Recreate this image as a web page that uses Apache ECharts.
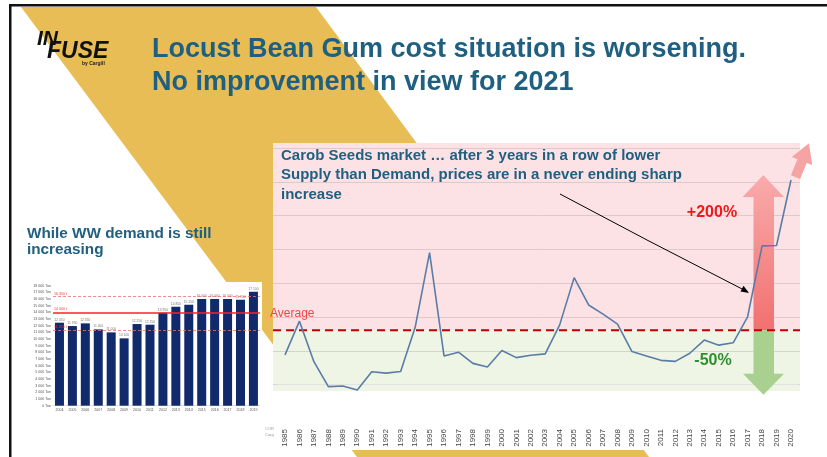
<!DOCTYPE html>
<html><head><meta charset="utf-8">
<script src="https://cdn.jsdelivr.net/npm/echarts/dist/echarts.min.js"></script>
<style>html,body{margin:0;padding:0;background:#fff;overflow:hidden}#c{width:827px;height:457px}</style>
</head><body><div id="c"></div>
<script>
// ---- Data: carob seed price index (line chart) ----
const years = ['1985','1986','1987','1988','1989','1990','1991','1992','1993','1994','1995','1996','1997','1998','1999','2000','2001','2002','2003','2004','2005','2006','2007','2008','2009','2010','2011','2012','2013','2014','2015','2016','2017','2018','2019','2020'];
const priceIndex = [0.87,1.87,0.67,-0.07,-0.05,-0.17,0.37,0.33,0.38,1.68,3.90,0.84,0.95,0.62,0.51,1.00,0.79,0.86,0.90,1.76,3.16,2.35,2.08,1.78,0.97,0.84,0.71,0.68,0.92,1.31,1.16,1.23,2.00,4.10,4.11,6.05];
const priceAverage = 1.6;
const priceGridValues = [0,1,2,3,4,5,6,7];
const priceBandMin = -0.2;
const priceAxisMin = -1.146;
const priceAxisMax = 7.147;

// ---- Data: world-wide LBG demand (bar chart) ----
const demandYears = ['2004','2005','2006','2007','2008','2009','2010','2011','2012','2013','2014','2015','2016','2017','2018','2019'];
const demandTons = [12450,11950,12350,11450,11000,10100,12250,12150,13950,14850,15150,16000,16000,16000,15900,17100];
const demandAverage = 14000;
const demandUpper = 16350;
const demandLower = 11350;

// ---- Texts ----
const titleLines = ['Locust Bean Gum cost situation is worsening.', 'No improvement in view for 2021'];
const demandNote = ['While WW demand is still', 'increasing'];
const priceNote = ['Carob Seeds market \u2026 after 3 years in a row of lower', 'Supply than Demand, prices are in a never ending sharp', 'increase'];

const FONT = '"Liberation Sans", Arial, sans-serif';
const TEAL = '#1f5f80';
const fmtK = v => String(Math.round(v)).replace(/\B(?=(\d{3})+(?!\d))/g, ' ');

const chart = echarts.init(document.getElementById('c'), null, {renderer: 'canvas'});
chart.setOption({
  animation: false,
  backgroundColor: '#ffffff',
  textStyle: {fontFamily: FONT},
  grid: [
    {left: 277.77, right: 28.77, top: 143, bottom: 34, containLabel: false},
    {left: 53, width: 206.9, top: 285.7, bottom: 51.3, containLabel: false}
  ],
  xAxis: [
    {gridIndex: 0, type: 'category', data: years, boundaryGap: true,
     axisLine: {lineStyle: {color: '#e3e3e3', width: 1}}, axisTick: {show: false},
     axisLabel: {rotate: 90, fontSize: 8, color: '#454545', margin: 6, interval: 0, fontFamily: FONT}},
    {gridIndex: 1, type: 'category', data: demandYears, boundaryGap: true,
     axisLine: {lineStyle: {color: '#d0d0d0', width: 0.6}}, axisTick: {show: false},
     axisLabel: {fontSize: 3.6, color: '#555', margin: 2.5, interval: 0, fontFamily: FONT}}
  ],
  yAxis: [
    {gridIndex: 0, type: 'value', min: priceAxisMin, max: priceAxisMax, show: false},
    {gridIndex: 1, type: 'value', min: 0, max: 18000, interval: 1000,
     splitLine: {show: false}, axisLine: {show: false}, axisTick: {show: false},
     axisLabel: {fontSize: 3.6, color: '#555', margin: 2, fontFamily: FONT,
       formatter: v => v === 0 ? '0 Ton' : fmtK(v) + ' Ton'}}
  ],
  series: [
    {type: 'line', xAxisIndex: 0, yAxisIndex: 0, data: priceIndex, symbol: 'none', z: 10,
     lineStyle: {color: '#5a7ca6', width: 1.6}},
    {type: 'bar', xAxisIndex: 1, yAxisIndex: 1, data: demandTons, barWidth: 9, z: 3,
     itemStyle: {color: '#102a6b'},
     label: {show: true, position: 'top', distance: 1.5, fontSize: 3.3, color: '#777', formatter: p => fmtK(p.value)},
     markLine: {silent: true, symbol: 'none', animation: false,
       label: {position: 'insideStartTop', fontSize: 3.6, color: '#ff3030', distance: 1, formatter: p => fmtK(p.value) + ' t'},
       data: [
         {yAxis: demandUpper, lineStyle: {color: '#f07070', type: [3, 2], width: 0.8}},
         {yAxis: demandAverage, lineStyle: {color: '#ff2020', type: 'solid', width: 1.6}},
         {yAxis: demandLower, lineStyle: {color: '#f07070', type: [3, 2], width: 0.8}}
       ]}}
  ]
});

const py = v => chart.convertToPixel({yAxisIndex: 0}, v);
const avgY = py(priceAverage);
const topY = py(priceAxisMax);
const bandBottom = py(priceBandMin);
const L = 273, R = 800;

const g = [];
// yellow diagonal band
g.push({type: 'polygon', z: -10, shape: {points: [[21,7],[316,7],[649,457],[357,457]]}, style: {fill: '#e8bd55'}});
// slide frame
g.push({type: 'rect', z: -9, shape: {x: 9, y: 4, width: 818, height: 2.5}, style: {fill: '#111'}});
g.push({type: 'rect', z: -9, shape: {x: 9, y: 4, width: 2.5, height: 453}, style: {fill: '#111'}});
// white panels
g.push({type: 'rect', z: -8, shape: {x: 25, y: 282, width: 237, height: 131}, style: {fill: '#fff'}});
g.push({type: 'rect', z: -8, shape: {x: L, y: topY, width: 540, height: 450 - topY}, style: {fill: '#fff'}});
// pink/green zones
g.push({type: 'rect', z: -7, shape: {x: L, y: topY, width: R - L, height: avgY - topY}, style: {fill: '#fde2e5'}});
g.push({type: 'rect', z: -7, shape: {x: L, y: avgY, width: R - L, height: bandBottom - avgY}, style: {fill: '#eef5e4'}});
// gridlines
priceGridValues.forEach(v => {
  const y = Math.round(py(v)) + 0.5;
  g.push({type: 'line', z: -6, shape: {x1: L, y1: y, x2: R, y2: y}, style: {stroke: 'rgba(120,110,110,0.22)', lineWidth: 1}});
});
// arrows
g.push({type: 'polygon', z: 1, shape: {points: [[753.5,avgY],[753.5,197],[742.6,197],[763.3,175],[784,197],[774,197],[774,avgY]]},
  style: {fill: {type: 'linear', x: 0, y: 0, x2: 0, y2: 1, colorStops: [{offset: 0, color: '#f9abab'}, {offset: 1, color: '#f27070'}]}}});
g.push({type: 'polygon', z: 1, shape: {points: [[753.5,avgY],[753.5,373.7],[743,373.7],[763.5,394.7],[784,373.7],[774,373.7],[774,avgY]]},
  style: {fill: '#a9d08e'}});
g.push({type: 'polygon', z: 1, shape: {points: [[790.9,175.2],[797.4,159.2],[791.8,156.9],[809,143.3],[812.2,165.1],[806.7,162.9],[800.1,178.9]]},
  style: {fill: '#f6a3a3'}});
// average dashed line
g.push({type: 'line', z: 5, shape: {x1: L, y1: avgY, x2: R, y2: avgY}, style: {stroke: '#c00000', lineWidth: 2, lineDash: [8, 5]}});
// annotation arrow
g.push({type: 'polyline', z: 12, shape: {points: [[560,194],[647,240],[746,291]]}, style: {stroke: '#000', lineWidth: 1, fill: null}});
g.push({type: 'polygon', z: 12, shape: {points: [[749,293],[740.5,291.5],[743.5,285.8]]}, style: {fill: '#000'}});

const txt = (text, x, y, font, fill, align, extra) => Object.assign({type: 'text', z: 20,
  style: {text: text, x: x, y: y, font: font, fill: fill, textAlign: align || 'left', align: align || 'left',
          textVerticalAlign: 'middle', verticalAlign: 'middle'}}, extra || {});
// titles
g.push(txt(titleLines[0], 152, 50, 'bold 27px ' + FONT, TEAL));
g.push(txt(titleLines[1], 152, 83, 'bold 27px ' + FONT, TEAL));
// logo
g.push(txt('IN', 37, 39, 'bold italic 21px ' + FONT, '#111'));
g.push(txt('FUSE', 47, 52, 'bold italic 23px ' + FONT, '#111'));
g.push(txt('by Cargill', 82, 63.5, 'bold 5px ' + FONT, '#222'));
// notes
g.push(txt(demandNote[0], 27, 233.5, 'bold 15.3px ' + FONT, TEAL));
g.push(txt(demandNote[1], 27, 250, 'bold 15.3px ' + FONT, TEAL));
priceNote.forEach((t, i) => g.push(txt(t, 281, 156 + i * 19.3, 'bold 15px ' + FONT, TEAL)));
g.push(txt('+200%', 712, 213, 'bold 16px ' + FONT, '#f01818', 'center'));
g.push(txt('-50%', 713, 361, 'bold 16px ' + FONT, '#2f8f2f', 'center'));
g.push(txt('Average', 270, avgY - 17, '12px ' + FONT, '#f04545'));
g.push(txt('COR', 265, 429, '4px ' + FONT, '#999'));
g.push(txt('Carg', 265, 435, '4px ' + FONT, '#999'));

chart.setOption({graphic: {elements: g}});
</script>
</body></html>
